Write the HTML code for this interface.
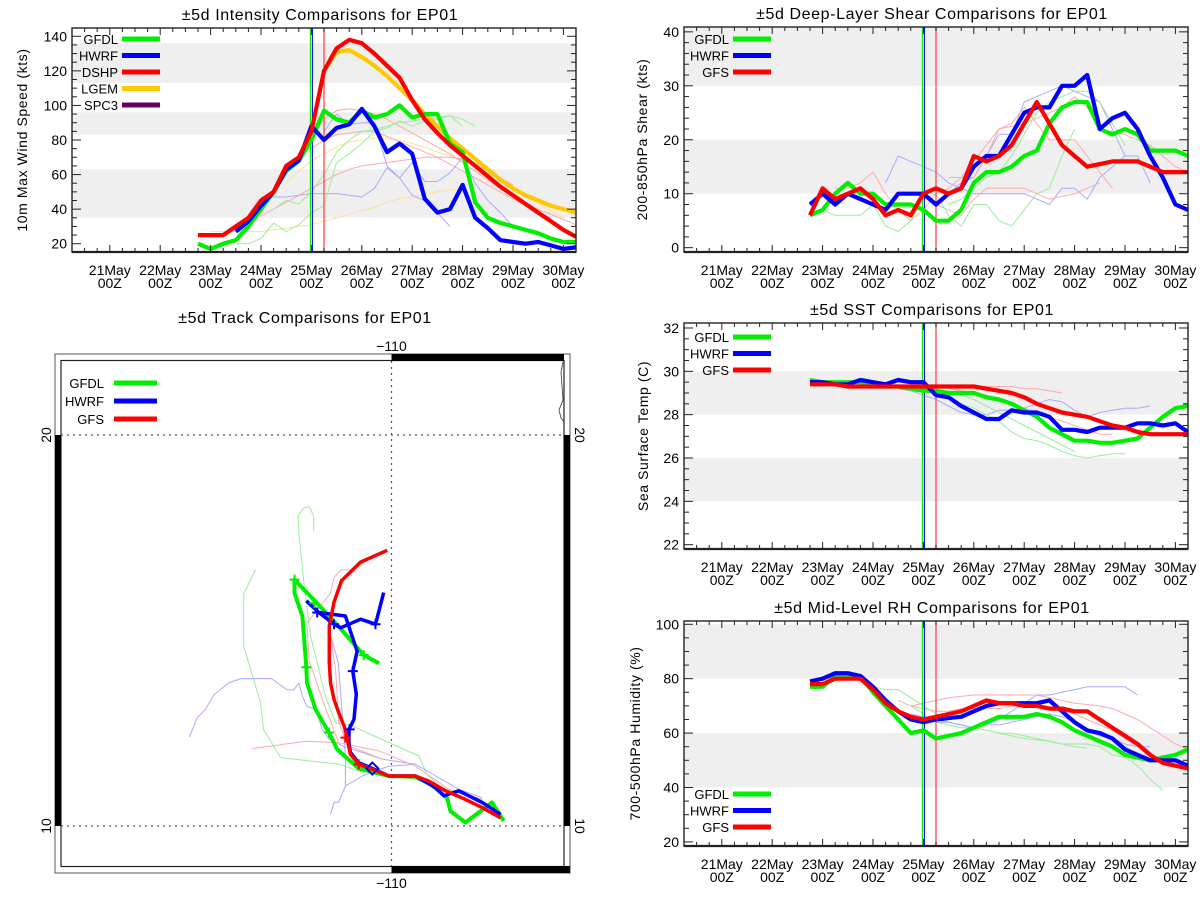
<!DOCTYPE html>
<html><head><meta charset="utf-8"><style>
html,body{margin:0;padding:0;background:#fff;}
svg{display:block;font-family:"Liberation Sans",sans-serif;}
</style></head><body>
<svg id="s" width="1200" height="900" viewBox="0 0 1200 900" xmlns="http://www.w3.org/2000/svg">
<rect x="0" y="0" width="1200" height="900" fill="#fff"/>
</svg>
<script>
// ---------- Data (6-hourly values, day-of-May start) ----------
const dateTicks = ["21May","22May","23May","24May","25May","26May","27May","28May","29May","30May"];
const dateDays = [21,22,23,24,25,26,27,28,29,30];
const modelInitDays = [24.98, 25.02, 25.25];

// Intensity (kts)
const intTicks = [20,40,60,80,100,120,140];
const intBands = [[35,63],[83,96],[113,136]];
const intGFDL = [20,17,20,22,30,40,50,62,68,80,97,92,90,97,93,95,100,93,95,95,78,73,44,35,32,30,28,26,23,21,21];
const intHWRF = [27,33,42,50,63,68,88,80,87,89,98,88,73,78,72,46,38,40,54,35,29,22,21,20,21,19,17,18];
const intDSHP = [25,25,25,30,35,45,50,65,70,85,120,133,138,136,130,123,116,103,92,84,77,71,65,59,53,48,43,38,33,28,24];
const intLGEM = [120,131,132,128,123,117,110,103,95,88,81,75,69,63,57,52,48,45,42,40,38];
const intThinY1 = [27,27,27,27,27,28,29,30,31,33,35,37,39,41,44,46,47,49,50,51,51];
const intThinY2 = [55,62,68,72,76,79,80,81,81,80,78,76,73,71,68,65,61,57,52,47,43,39,35];
const intThinR1 = [32,36,40,44,48,52,56,60,63,65,66,67,68,69,70,70,70,69,66,62,58,54];
const intThinR2 = [82,92,97,98,97,95,92,88,84,80,76,72,67,62,57,52,47,43,40,37,34,31];
const intThinR3 = [75,80,83,84,85,85,82,79,76,73,70,66,62,58,54,50,46,42,38,35];
const intThinB1 = [47,47,47,48,49,49,49,48,47,52,64,58,67,56,56,61,70,55,45,38,30,28];
const intThinB2 = [85,95,89,90,90,65,58,48,45,38,30];
const intThinG1 = [20,20,23,32,27,31,38,42,67,72,78,85,87,91,88,91,92,94,88];
const intThinG2 = [40,45,43,50,60,73,80,85,86,88,90,91,92,93,94,92,88];

// Shear (kts)
const shrTicks = [0,10,20,30,40];
const shrBands = [[10,20],[30,41]];
const shrGFDL = [6,7,10,12,10,10,8,8,8,7,5,5,7,12,14,14,15,17,18,23,26,27,27,22,21,22,21,18,18,18,17];
const shrHWRF = [8,10,8,10,9,8,7,10,10,10,8,10,11,15,17,17,21,25,26,26,30,30,32,22,24,25,22,17,13,8,7];
const shrGFS = [6,11,9,10,11,9,6,7,6,10,11,10,11,17,16,17,19,23,27,23,19,17,15,15.5,16,16,16,15,14,14,14];
const shrThinB1 = [12,17,16,15,14,12,11,10,10,10,10,10,9,8,11,11,9,13,15,17];
const shrThinB2 = [10,12,13,17,21,21,27,28,29,30,29,28,27,22,17,17,12];
const shrThinR1 = [11,11,12,14,10,7,5,7,10,11,13,13,17,22,22.5,23,24,25,26,28,26,22,21.5,21,20,19,17,15,14];
const shrThinR2 = [8,7,6,9,11,11,11,11,10,9,9.5,10,11,12];
const shrThinR3 = [13,13,16,19,22,23,26,23,20,20,20,17,14,11];
const shrThinG1 = [7,6,6,6,8,4,3,5,9,10,6,4,8,8,5,4,7,10,11,17,22];
const shrThinG2 = [8,9,11,13,14,17,21,25,27,28,29,29,27,23,19];

// SST (C)
const sstTicks = [22,24,26,28,30,32];
const sstBands = [[24,26],[28,30]];
const sstGFDL = [29.6,29.5,29.5,29.5,29.5,29.4,29.3,29.3,29.2,29.1,29.1,29.0,29.0,29.0,28.8,28.7,28.5,28.2,27.9,27.4,27.1,26.8,26.8,26.7,26.7,26.8,26.9,27.4,27.9,28.3,28.4];
const sstHWRF = [29.5,29.5,29.4,29.4,29.6,29.5,29.4,29.6,29.5,29.5,28.9,28.8,28.4,28.1,27.8,27.8,28.2,28.1,28.1,27.9,27.3,27.3,27.2,27.4,27.4,27.4,27.6,27.6,27.5,27.6,27.2];
const sstGFS = [29.4,29.4,29.4,29.3,29.3,29.3,29.3,29.3,29.3,29.3,29.3,29.3,29.3,29.3,29.2,29.1,29.0,28.8,28.5,28.3,28.1,28.0,27.9,27.7,27.5,27.4,27.2,27.1,27.1,27.1,27.1];
const sstThinR1 = [29.2,29.3,29.3,29.3,29.3,29.3,29.2,29.2,29.1,29.0];
const sstThinR2 = [29.2,29.1,29.0,28.9,28.7,28.5,28.3,28.1,27.9,27.7,27.5,27.3,27.1,27.1];
const sstThinB1 = [29.2,29.1,28.9,28.7,28.4,28.1,28.0,28.0,28.2,28.2,28.3,28.5,28.7,28.6,28.2,27.9,28.1,28.2,28.3,28.3,28.4];
const sstThinG1 = [28.7,28.5,28.3,28.0,27.7,27.2,26.9,26.8,26.6,26.3,26.1,26.0,26.1,26.2,26.2];
const sstThinG2 = [28.9,28.7,28.4,28.1,27.8,27.5,27.2,26.9,26.6,26.3];

// RH (%)
const rhTicks = [20,40,60,80,100];
const rhBands = [[40,60],[80,100]];
const rhGFDL = [77,77,81,81,81,75,70,65,60,61,58,59,60,62,64,66,66,66,67,66,64,61,59,57,55,52,51,50,51,52,54];
const rhHWRF = [79,80,82,82,81,77,72,68,65,64,65,65.5,66,68,70,71,71,71,71,72,68,64,61,60,58,54,52,50,50,50,48];
const rhGFS = [78,78,80,80,80,76,71,68,66,65,66,67,68,70,72,71,71,70,70,69,69,68,68,65,62,59,56,52,49,48,47];
const rhThinR1 = [70,71,72,73,73.5,74,74,74,74,74,74,73,72,71,70.5,70,69,67,65,62,59,56,54];
const rhThinR2 = [72,70,69,68,68,69,69,69,69,70,70,70,69,68,67,65,63,61,58,55];
const rhThinG1 = [77,76,76,73,70,67,64,63,62,61,60,59,58,57.5,57,56,56,56,55,52,51,48,43,39];
const rhThinG2 = [70,67,64,63,62,62,61,60,60,59,58,57,56,55,54.5];
const rhThinB1 = [64,64,63,62,63,65,68,71,74,74,75,76,77,77,77,77,74];
const rhThinB2 = [67,66,65,64,63,62,63,63,64,65,66,67,66,64,61,59,58,56,55,55];

// Tracks (lon, lat)
const trkGFSLon = [-107.21,-107.68,-108.11,-108.62,-109.05,-109.39,-110.07,-110.49,-110.84,-111.05,-111.13,-111.18,-111.35,-111.47,-111.56,-111.59,-111.59,-111.47,-111.28,-110.79,-110.11];
const trkGFSLat = [10.21,10.47,10.68,10.90,11.15,11.28,11.28,11.45,11.58,11.83,12.22,12.47,12.90,13.24,13.67,14.18,15.12,15.72,16.27,16.75,17.05];
const trkGFDLLon = [-107.13,-107.43,-107.72,-108.11,-108.49,-108.58,-109.00,-109.39,-110.07,-110.84,-111.39,-111.60,-111.94,-112.16,-112.18,-112.28,-112.48,-112.48,-111.94,-111.35,-110.71,-110.32];
const trkGFDLLat = [10.13,10.60,10.38,10.09,10.38,10.72,11.07,11.26,11.28,11.47,11.96,12.39,12.98,13.66,14.08,15.36,15.96,16.30,15.74,15.10,14.37,14.16];
const trkHWRFLon = [-107.21,-107.68,-108.28,-108.66,-108.87,-109.39,-110.07,-110.49,-110.84,-111.05,-111.09,-111.09,-110.96,-110.90,-110.99,-110.88,-111.01,-111.18,-111.86,-112.18];
const trkHWRFLat = [10.30,10.60,10.90,10.77,10.98,11.28,11.28,11.47,11.62,11.88,12.13,12.47,12.73,13.37,13.96,14.47,14.86,15.37,15.46,15.76];
const trkHWRF2Lon = [-111.86,-111.47,-111.30,-110.79,-110.41,-110.20];
const trkHWRF2Lat = [15.46,15.16,15.07,15.29,15.16,15.97];
const trkThinG1Lon = [-111.99,-111.99,-112.11,-112.24,-112.39,-112.37,-112.24,-112.07,-111.86,-111.69,-111.43,-111.01,-109.30,-109.09,-108.87];
const trkThinG1Lat = [17.54,17.93,18.17,18.14,17.93,17.50,16.22,14.85,14.01,13.32,12.64,12.56,11.79,11.32,11.11];
const trkThinG2Lon = [-113.48,-113.78,-113.78,-113.35,-113.27,-112.84,-111.35,-110.84,-109.39,-108.19,-107.68];
const trkThinG2Lat = [16.55,15.93,14.60,13.15,12.47,11.75,11.58,11.41,11.19,10.81,10.68];
const trkThinB1Lon = [-115.17,-114.97,-114.76,-114.54,-114.16,-113.86,-113.07,-112.67,-112.50,-112.37,-112.28,-112.16,-111.94,-111.77,-111.60,-111.26,-110.24,-109.39,-108.87,-108.28,-107.68];
const trkThinB1Lat = [12.28,12.77,12.98,13.36,13.66,13.77,13.77,13.48,13.48,13.66,13.32,13.06,12.98,12.47,12.22,12.05,11.71,11.58,11.28,10.94,10.72];
const trkThinB2Lon = [-111.56,-111.47,-111.35,-111.18,-111.18,-111.36,-111.60];
const trkThinB2Lat = [10.30,10.60,10.61,11.02,11.79,14.18,15.03];
const trkThinB3Lon = [-111.18,-110.75,-110.07,-109.39];
const trkThinB3Lat = [11.02,11.28,11.53,11.58];
const trkThinR1Lon = [-113.56,-112.20,-111.35,-110.32,-109.39,-108.53,-107.68];
const trkThinR1Lat = [11.98,12.17,12.13,11.92,11.53,10.94,10.68];
const trkThinR2Lon = [-111.05,-111.30,-111.47,-111.56,-112.16,-112.11,-111.77,-111.35];
const trkThinR2Lat = [16.55,16.55,16.35,15.96,15.19,14.25,13.24,12.13];
const trkThinR3Lon = [-111.60,-111.43,-111.35,-111.09,-110.24];
const trkThinR3Lat = [15.19,13.99,12.64,12.05,11.71];
const trkMarkGFDLLon = [-112.48,-111.97,-110.71,-112.18,-111.60];
const trkMarkGFDLLat = [16.30,15.70,14.37,14.06,12.39];
const trkMarkHWRFLon = [-111.90,-111.47,-110.41,-110.99,-111.07];
const trkMarkHWRFLat = [15.46,15.16,15.16,13.96,12.47];
const trkMarkGFSLon = [-111.18,-110.84];
const trkMarkGFSLat = [12.26,11.58];

// ---------- Drawing ----------
const NS = "http://www.w3.org/2000/svg";
const svg = document.getElementById('s');
function mk(tag, attrs, parent, name, inter) {
  const e = document.createElementNS(NS, tag);
  for (const k in attrs) e.setAttribute(k, attrs[k]);
  
  
  (parent || svg).appendChild(e);
  return e;
}
function txt(x, y, s, size, anchor, parent, name, extra) {
  const t = mk('text', Object.assign({x: x, y: y, 'font-size': size, 'text-anchor': anchor || 'middle', fill: '#000'}, extra || {}), parent, name, false);
  t.textContent = s;
  return t;
}
const C = {g: '#00ee00', b: '#0000ff', r: '#ff0000', y: '#ffc800', p: '#660066', tg: '#99ee99', tb: '#aaaaff', tr: '#ffaaaa', ty: '#ffe099'};
const defs = mk('defs', {}, svg, 'defs', false);
let clipN = 0;

function timePanel(P) {
  const g = mk('g', {}, svg, P.name, false);
  const X = d => P.x0 + (d - 20.25) / 10 * (P.x1 - P.x0);
  const Y = v => P.y1 - (v - P.ymin) / (P.ymax - P.ymin) * (P.y1 - P.y0);
  const cid = 'clip' + (clipN++);
  const cp = mk('clipPath', {id: cid}, defs, 'plot-clip', false);
  mk('rect', {x: P.x0, y: P.y0, width: P.x1 - P.x0, height: P.y1 - P.y0}, cp, 'plot-clip-rect', false);
  const inner = mk('g', {'clip-path': 'url(#' + cid + ')'}, g, 'plot-area', false);
  P.bands.forEach(b => {
    mk('rect', {x: P.x0, y: Y(Math.min(b[1], P.ymax)), width: P.x1 - P.x0, height: Y(b[0]) - Y(Math.min(b[1], P.ymax)), fill: '#efefef'}, inner, 'shaded-band', false);
  });
  P.thin.forEach(s => {
    const pts = s.v.map((v, i) => X(s.t + i * 0.25).toFixed(1) + ',' + Y(v).toFixed(1)).join(' ');
    mk('polyline', {points: pts, fill: 'none', stroke: s.c, 'stroke-width': 1, 'stroke-linejoin': 'round'}, inner, 'ensemble-line', false);
  });
  const vc = [C.g, C.b, '#ff5555'];
  modelInitDays.forEach((d, i) => {
    mk('line', {x1: X(d), x2: X(d), y1: P.y0, y2: P.y1, stroke: vc[i], 'stroke-width': i == 2 ? 1.4 : 1.1}, inner, 'init-time-line', false);
  });
  P.thick.forEach(s => {
    const pts = s.v.map((v, i) => X(s.t + i * 0.25).toFixed(1) + ',' + Y(v).toFixed(1)).join(' ');
    mk('polyline', {points: pts, fill: 'none', stroke: s.c, 'stroke-width': 4.2, 'stroke-linejoin': 'round'}, inner, s.n + '-line', false);
  });
  mk('rect', {x: P.x0, y: P.y0, width: P.x1 - P.x0, height: P.y1 - P.y0, fill: 'none', stroke: '#222', 'stroke-width': 1.4}, g, 'plot-frame', false);
  mk('line', {x1: P.x0, x2: P.x1, y1: P.y1, y2: P.y1, stroke: '#222', 'stroke-width': 2.2}, g, 'x-axis', false);
  for (let v = Math.ceil(P.ymin / P.minor) * P.minor; v <= P.ymax + 1e-6; v += P.minor) {
    const maj = Math.abs(v / P.major - Math.round(v / P.major)) < 1e-6;
    const L = maj ? 9 : 5;
    mk('line', {x1: P.x0, x2: P.x0 + L, y1: Y(v), y2: Y(v), stroke: '#222', 'stroke-width': 1}, g, 'y-tick', false);
    mk('line', {x1: P.x1, x2: P.x1 - L, y1: Y(v), y2: Y(v), stroke: '#222', 'stroke-width': 1}, g, 'y-tick-right', false);
  }
  P.ticks.forEach(v => txt(P.x0 - 5, Y(v) + 5, String(v), 14, 'end', g, 'y-tick-label'));
  for (let d = 20.5; d <= 30.25; d += 0.25) {
    const maj = Math.abs(d - Math.round(d)) < 1e-6;
    const L = maj ? 7 : 4;
    mk('line', {x1: X(d), x2: X(d), y1: P.y1, y2: P.y1 - L, stroke: '#222', 'stroke-width': 1}, g, 'x-tick', false);
    mk('line', {x1: X(d), x2: X(d), y1: P.y0, y2: P.y0 + L, stroke: '#222', 'stroke-width': 1}, g, 'x-tick-top', false);
  }
  dateTicks.forEach((s, i) => {
    txt(X(dateDays[i]), P.y1 + 23, s, 14, 'middle', g, 'x-tick-label');
    txt(X(dateDays[i]), P.y1 + 36, '00Z', 14, 'middle', g, 'x-tick-label-hour');
  });
  txt((P.x0 + P.x1) / 2 - 4, P.y0 - 8, P.title, 16, 'middle', g, 'chart-title', {'letter-spacing': '0.6'});
  txt(0, 0, P.ylabel, 14, 'middle', g, 'y-axis-title', {'letter-spacing': '0.6', transform: 'translate(' + P.ylx + ',' + ((P.y0 + P.y1) / 2) + ') rotate(-90)'});
  P.legend.forEach((L, i) => {
    const ly = P.legY + i * 16.5;
    txt(P.legTx, ly + 5, L[0], 13, 'end', g, 'legend-label');
    mk('line', {x1: P.legTx + 4, x2: P.legTx + 42, y1: ly, y2: ly, stroke: L[1], 'stroke-width': 5}, g, 'legend-swatch', false);
  });
}

timePanel({name: 'intensity-chart', x0: 72, x1: 576, y0: 28, y1: 252, ymin: 15.2, ymax: 144.8, major: 20, minor: 5,
  ticks: intTicks, bands: intBands, title: '±5d Intensity Comparisons for EP01', ylabel: '10m Max Wind Speed (kts)', ylx: 27,
  legTx: 118, legY: 39, legend: [['GFDL', C.g], ['HWRF', C.b], ['DSHP', C.r], ['LGEM', C.y], ['SPC3', C.p]],
  thin: [{t: 23.0, v: intThinY1, c: C.ty}, {t: 24.5, v: intThinY2, c: C.ty}, {t: 23.75, v: intThinR1, c: C.tr}, {t: 25.0, v: intThinR2, c: C.tr}, {t: 25.0, v: intThinR3, c: C.tr},
    {t: 24.0, v: intThinB1, c: C.tb}, {t: 25.25, v: intThinB2, c: C.tb}, {t: 23.5, v: intThinG1, c: C.tg}, {t: 24.25, v: intThinG2, c: C.tg}],
  thick: [{t: 25.25, v: intLGEM, c: C.y, n: 'lgem'}, {t: 22.75, v: intGFDL, c: C.g, n: 'gfdl'}, {t: 23.5, v: intHWRF, c: C.b, n: 'hwrf'}, {t: 22.75, v: intDSHP, c: C.r, n: 'dshp'}]});

timePanel({name: 'shear-chart', x0: 684, x1: 1188, y0: 27, y1: 252, ymin: -0.8, ymax: 40.9, major: 10, minor: 2,
  ticks: shrTicks, bands: shrBands, title: '±5d Deep-Layer Shear Comparisons for EP01', ylabel: '200-850hPa Shear (kts)', ylx: 647,
  legTx: 729, legY: 39, legend: [['GFDL', C.g], ['HWRF', C.b], ['GFS', C.r]],
  thin: [{t: 24.25, v: shrThinB1, c: C.tb}, {t: 25.5, v: shrThinB2, c: C.tb}, {t: 23.25, v: shrThinR1, c: C.tr}, {t: 25.25, v: shrThinR2, c: C.tr}, {t: 25.5, v: shrThinR3, c: C.tr}, {t: 23.0, v: shrThinG1, c: C.tg}, {t: 25.5, v: shrThinG2, c: C.tg}],
  thick: [{t: 22.75, v: shrGFDL, c: C.g, n: 'gfdl'}, {t: 22.75, v: shrHWRF, c: C.b, n: 'hwrf'}, {t: 22.75, v: shrGFS, c: C.r, n: 'gfs'}]});

timePanel({name: 'sst-chart', x0: 684, x1: 1188, y0: 323, y1: 549, ymin: 21.8, ymax: 32.23, major: 2, minor: 0.5,
  ticks: sstTicks, bands: sstBands, title: '±5d SST Comparisons for EP01', ylabel: 'Sea Surface Temp (C)', ylx: 648,
  legTx: 729, legY: 337, legend: [['GFDL', C.g], ['HWRF', C.b], ['GFS', C.r]],
  thin: [{t: 25.5, v: sstThinR1, c: C.tr}, {t: 25.5, v: sstThinR2, c: C.tr}, {t: 24.5, v: sstThinB1, c: C.tb}, {t: 25.5, v: sstThinG1, c: C.tg}, {t: 25.75, v: sstThinG2, c: C.tg}],
  thick: [{t: 22.75, v: sstGFDL, c: C.g, n: 'gfdl'}, {t: 22.75, v: sstHWRF, c: C.b, n: 'hwrf'}, {t: 22.75, v: sstGFS, c: C.r, n: 'gfs'}]});

timePanel({name: 'rh-chart', x0: 684, x1: 1188, y0: 621, y1: 846, ymin: 18.5, ymax: 101.2, major: 20, minor: 5,
  ticks: rhTicks, bands: rhBands, title: '±5d Mid-Level RH Comparisons for EP01', ylabel: '700-500hPa Humidity (%)', ylx: 640,
  legTx: 729, legY: 794, legend: [['GFDL', C.g], ['HWRF', C.b], ['GFS', C.r]],
  thin: [{t: 24.75, v: rhThinR1, c: C.tr}, {t: 24.5, v: rhThinR2, c: C.tr}, {t: 24.0, v: rhThinG1, c: C.tg}, {t: 24.75, v: rhThinG2, c: C.tg}, {t: 25.25, v: rhThinB1, c: C.tb}, {t: 24.75, v: rhThinB2, c: C.tb}],
  thick: [{t: 22.75, v: rhGFDL, c: C.g, n: 'gfdl'}, {t: 22.75, v: rhHWRF, c: C.b, n: 'hwrf'}, {t: 22.75, v: rhGFS, c: C.r, n: 'gfs'}]});

// ---------- Track map ----------
(function () {
  const g = mk('g', {}, svg, 'track-map', false);
  const LX = lon => 391.5 + (lon + 110) * 39.1;
  const LY = lat => 826 - (lat - 10) * 39.1;
  txt(305, 323, '±5d Track Comparisons for EP01', 16, 'middle', g, 'track-title', {'letter-spacing': '0.6'});
  mk('rect', {x: 55, y: 354, width: 515, height: 519, fill: 'none', stroke: '#555', 'stroke-width': 1}, g, 'map-outer-frame', false);
  mk('rect', {x: 61, y: 360.5, width: 503, height: 506, fill: 'none', stroke: '#222', 'stroke-width': 1.2}, g, 'map-inner-frame', false);
  mk('rect', {x: LX(-110), y: 354, width: 564 - LX(-110), height: 7, fill: '#000'}, g, 'map-border-top', false);
  mk('rect', {x: LX(-110), y: 866, width: 570 - LX(-110), height: 7, fill: '#000'}, g, 'map-border-bottom', false);
  mk('rect', {x: 55, y: LY(20), width: 6, height: LY(10) - LY(20), fill: '#000'}, g, 'map-border-left', false);
  mk('rect', {x: 564, y: LY(20), width: 6, height: LY(10) - LY(20), fill: '#000'}, g, 'map-border-right', false);
  mk('line', {x1: LX(-110), x2: LX(-110), y1: 361, y2: 866, stroke: '#555', 'stroke-width': 1.2, 'stroke-dasharray': '2,4'}, g, 'meridian-110', false);
  [20, 10].forEach(l => mk('line', {x1: 61, x2: 564, y1: LY(l), y2: LY(l), stroke: '#555', 'stroke-width': 1.2, 'stroke-dasharray': '2,4'}, g, 'parallel-' + l, false));
  mk('path', {d: 'M563,362 L561,372 L563,400 L559,410 L561,418 L564,422', fill: 'none', stroke: '#333', 'stroke-width': 0.8}, g, 'coastline', false);
  txt(LX(-110), 351, '−110', 14, 'middle', g, 'lon-label-top');
  txt(LX(-110), 888, '−110', 14, 'middle', g, 'lon-label-bottom');
  txt(0, 0, '20', 14, 'middle', g, 'lat-label-left', {transform: 'translate(51,' + LY(20) + ') rotate(-90)'});
  txt(0, 0, '10', 14, 'middle', g, 'lat-label-left', {transform: 'translate(51,' + LY(10) + ') rotate(-90)'});
  txt(0, 0, '20', 14, 'middle', g, 'lat-label-right', {transform: 'translate(575,' + LY(20) + ') rotate(90)'});
  txt(0, 0, '10', 14, 'middle', g, 'lat-label-right', {transform: 'translate(575,' + LY(10) + ') rotate(90)'});
  const line = (lon, lat, c, w, n) => {
    const pts = lon.map((v, i) => LX(v).toFixed(1) + ',' + LY(lat[i]).toFixed(1)).join(' ');
    mk('polyline', {points: pts, fill: 'none', stroke: c, 'stroke-width': w, 'stroke-linejoin': 'round'}, g, n, false);
  };
  line(trkThinG1Lon, trkThinG1Lat, C.tg, 1, 'ensemble-track');
  line(trkThinG2Lon, trkThinG2Lat, C.tg, 1, 'ensemble-track');
  line(trkThinB1Lon, trkThinB1Lat, C.tb, 1, 'ensemble-track');
  line(trkThinB2Lon, trkThinB2Lat, C.tb, 1, 'ensemble-track');
  line(trkThinB3Lon, trkThinB3Lat, C.tb, 1, 'ensemble-track');
  line(trkThinR1Lon, trkThinR1Lat, C.tr, 1, 'ensemble-track');
  line(trkThinR2Lon, trkThinR2Lat, C.tr, 1, 'ensemble-track');
  line(trkThinR3Lon, trkThinR3Lat, C.tr, 1, 'ensemble-track');
  line(trkGFDLLon, trkGFDLLat, C.g, 4, 'gfdl-track');
  line(trkHWRFLon, trkHWRFLat, C.b, 3.5, 'hwrf-track');
  line(trkHWRF2Lon, trkHWRF2Lat, C.b, 3.5, 'hwrf-track-branch');
  line(trkGFSLon, trkGFSLat, C.r, 3.5, 'gfs-track');
  const mark = (lon, lat, c) => lon.forEach((v, i) => {
    const x = LX(v), y = LY(lat[i]);
    mk('path', {d: 'M' + (x - 5) + ',' + y + 'h10M' + x + ',' + (y - 5) + 'v10', stroke: c, 'stroke-width': 2, fill: 'none'}, g, 'track-6h-marker', false);
  });
  mark(trkMarkGFDLLon, trkMarkGFDLLat, C.g);
  mark(trkMarkHWRFLon, trkMarkHWRFLat, C.b);
  mark(trkMarkGFSLon, trkMarkGFSLat, C.r);
  const dx = LX(-110.49), dy = LY(11.47);
  mk('path', {d: 'M' + dx + ',' + (dy - 6) + 'l6,6l-6,6l-6,-6z', fill: 'none', stroke: C.b, 'stroke-width': 2}, g, 'current-position-marker', false);
  const lg = [['GFDL', C.g], ['HWRF', C.b], ['GFS', C.r]];
  lg.forEach((L, i) => {
    const ly = 383 + i * 18;
    txt(104, ly + 5, L[0], 13, 'end', g, 'track-legend-label');
    mk('line', {x1: 114, x2: 157, y1: ly, y2: ly, stroke: L[1], 'stroke-width': 5}, g, 'track-legend-swatch', false);
  });
})();
</script>
</body></html>
